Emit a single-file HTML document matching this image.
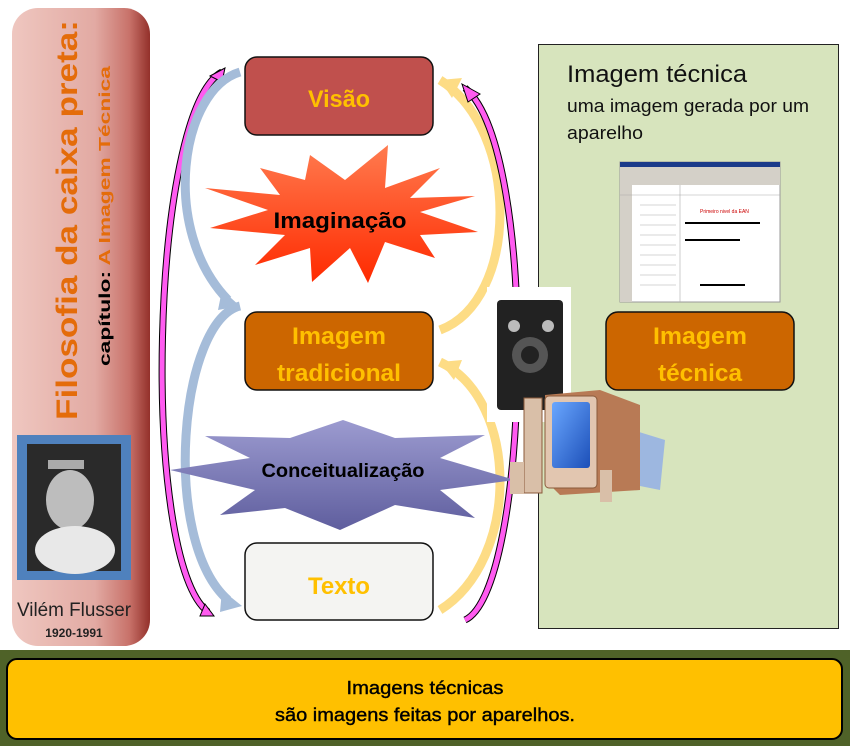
<!DOCTYPE html>
<html><head><meta charset="utf-8"><style>
html,body{margin:0;padding:0;background:#fff;}
svg{display:block;font-family:"Liberation Sans",sans-serif;}
</style></head><body>
<svg width="850" height="750" viewBox="0 0 850 750" xmlns="http://www.w3.org/2000/svg">
<defs>
<linearGradient id="pill" x1="0" x2="1" y1="0" y2="0">
<stop offset="0" stop-color="#efc7c0"/><stop offset="0.6" stop-color="#e2aaa3"/><stop offset="0.85" stop-color="#c8726a"/><stop offset="1" stop-color="#93302a"/>
</linearGradient>
<linearGradient id="red" x1="0" x2="0" y1="0" y2="1"><stop offset="0" stop-color="#ff7b4f"/><stop offset="1" stop-color="#ff2a00"/></linearGradient>
<linearGradient id="pur" x1="0" x2="0" y1="0" y2="1"><stop offset="0" stop-color="#9c9bd0"/><stop offset="1" stop-color="#5f5e9e"/></linearGradient>
<linearGradient id="scr" x1="0" x2="1" y1="0" y2="1"><stop offset="0" stop-color="#6aa7ff"/><stop offset="1" stop-color="#1c4fb8"/></linearGradient>
</defs>
<rect width="850" height="750" fill="#fff"/>
<!-- left pill -->
<rect x="12" y="8" width="138" height="638" rx="26" fill="url(#pill)"/>
<text transform="translate(77,420) rotate(-90)" font-size="30" font-weight="bold" fill="#e46c0a" textLength="400" lengthAdjust="spacingAndGlyphs">Filosofia da caixa preta:</text>
<text transform="translate(110,366) rotate(-90)" font-size="16" font-weight="bold" fill="#000" textLength="300" lengthAdjust="spacingAndGlyphs">capítulo: <tspan fill="#e46c0a">A Imagem Técnica</tspan></text>
<rect x="17" y="435" width="114" height="145" fill="#4f81bd"/>
<rect x="27" y="444" width="94" height="127" fill="#2a2a2a"/>
<ellipse cx="70" cy="500" rx="24" ry="30" fill="#bdbdbd"/>
<ellipse cx="75" cy="550" rx="40" ry="24" fill="#e8e8e8"/>
<rect x="48" y="460" width="36" height="9" fill="#aaa"/>
<text x="74" y="616" font-size="19" text-anchor="middle" fill="#222" textLength="114" lengthAdjust="spacingAndGlyphs">Vilém Flusser</text>
<text x="74" y="637" font-size="12" font-weight="bold" text-anchor="middle" fill="#222">1920-1991</text>
<!-- right panel -->
<rect x="538.5" y="44.5" width="300" height="584" fill="#d7e4bd" stroke="#222"/>
<text x="567" y="82" font-size="24" fill="#111" textLength="180" lengthAdjust="spacingAndGlyphs">Imagem técnica</text>
<text x="567" y="112" font-size="18" fill="#111" textLength="242" lengthAdjust="spacingAndGlyphs">uma imagem gerada por um</text>
<text x="567" y="139" font-size="18" fill="#111" textLength="76" lengthAdjust="spacingAndGlyphs">aparelho</text>
<rect x="620" y="162" width="160" height="140" fill="#fff" stroke="#999"/>
<rect x="620" y="162" width="160" height="5" fill="#1a3a8a"/>
<rect x="620" y="167" width="160" height="18" fill="#d4d0c8"/>
<rect x="620" y="185" width="12" height="117" fill="#d4d0c8"/>
<g stroke="#aaa" stroke-width="0.6">
<line x1="620" y1="195" x2="780" y2="195"/><line x1="680" y1="185" x2="680" y2="302"/>
<line x1="640" y1="205" x2="676" y2="205"/><line x1="640" y1="215" x2="676" y2="215"/><line x1="640" y1="225" x2="676" y2="225"/><line x1="640" y1="235" x2="676" y2="235"/><line x1="640" y1="245" x2="676" y2="245"/><line x1="640" y1="255" x2="676" y2="255"/><line x1="640" y1="265" x2="676" y2="265"/><line x1="640" y1="275" x2="676" y2="275"/><line x1="640" y1="285" x2="676" y2="285"/>
<line x1="685" y1="223" x2="760" y2="223" stroke="#000" stroke-width="2"/><line x1="685" y1="240" x2="740" y2="240" stroke="#000" stroke-width="2"/><line x1="700" y1="285" x2="745" y2="285" stroke="#000" stroke-width="2"/>
</g>
<text x="700" y="213" font-size="5" fill="#c00">Primeiro nivel da EAN</text>
<!-- bottom band -->
<rect x="0" y="650" width="850" height="96" fill="#4f6228"/>
<rect x="7" y="659" width="835" height="80" rx="10" fill="#ffc000" stroke="#000" stroke-width="2"/>
<text x="425" y="694" font-size="18" text-anchor="middle" fill="#000" textLength="157" lengthAdjust="spacingAndGlyphs" stroke="#000" stroke-width="0.4">Imagens técnicas</text>
<text x="425" y="721" font-size="18" text-anchor="middle" fill="#000" textLength="300" lengthAdjust="spacingAndGlyphs" stroke="#000" stroke-width="0.4">são imagens feitas por aparelhos.</text>
<!-- arrows left -->
<path d="M222 72 C150 110 140 560 208 612" fill="none" stroke="#000" stroke-width="7"/>
<path d="M222 72 C150 110 140 560 208 612" fill="none" stroke="#ff5bf0" stroke-width="5"/>
<path d="M210 76 L225 68 L222 82 Z M205 604 L214 616 L200 616 Z" fill="#ff5bf0" stroke="#000"/>
<path d="M240 72 C180 90 160 230 228 300" fill="none" stroke="#a5bcd9" stroke-width="9"/>
<path d="M240 306 L222 290 L218 310 Z" fill="#a5bcd9"/>
<path d="M240 306 C180 320 160 540 228 600" fill="none" stroke="#a5bcd9" stroke-width="9"/>
<path d="M242 606 L222 590 L220 612 Z" fill="#a5bcd9"/>
<!-- arrows right -->
<path d="M440 80 C520 130 520 300 440 330" fill="none" stroke="#fddc85" stroke-width="9"/>
<path d="M440 80 L462 78 L452 98 Z" fill="#fddc85"/>
<path d="M440 610 C520 560 520 400 440 362" fill="none" stroke="#fddc85" stroke-width="9"/>
<path d="M440 362 L462 360 L454 380 Z" fill="#fddc85"/>
<path d="M465 620 C530 590 540 150 465 88" fill="none" stroke="#000" stroke-width="7"/>
<path d="M465 620 C530 590 540 150 465 88" fill="none" stroke="#ff5bf0" stroke-width="5"/>
<path d="M462 84 L480 94 L468 102 Z" fill="#ff5bf0" stroke="#000"/>
<!-- boxes -->
<rect x="245" y="57" width="188" height="78" rx="12" fill="#c0504d" stroke="#111" stroke-width="1.5"/>
<text x="339" y="107" font-size="24" font-weight="bold" text-anchor="middle" fill="#ffc000" textLength="62" lengthAdjust="spacingAndGlyphs">Visão</text>
<rect x="245" y="312" width="188" height="78" rx="12" fill="#cc6600" stroke="#111" stroke-width="1.5"/>
<text x="339" y="344" font-size="24" font-weight="bold" text-anchor="middle" fill="#ffc000" textLength="94" lengthAdjust="spacingAndGlyphs">Imagem</text>
<text x="339" y="381" font-size="24" font-weight="bold" text-anchor="middle" fill="#ffc000" textLength="124" lengthAdjust="spacingAndGlyphs">tradicional</text>
<rect x="245" y="543" width="188" height="77" rx="12" fill="#f4f4f2" stroke="#111" stroke-width="1.5"/>
<text x="339" y="594" font-size="24" font-weight="bold" text-anchor="middle" fill="#ffc000" textLength="62" lengthAdjust="spacingAndGlyphs">Texto</text>
<rect x="606" y="312" width="188" height="78" rx="12" fill="#cc6600" stroke="#111" stroke-width="1.5"/>
<text x="700" y="344" font-size="24" font-weight="bold" text-anchor="middle" fill="#ffc000" textLength="94" lengthAdjust="spacingAndGlyphs">Imagem</text>
<text x="700" y="381" font-size="24" font-weight="bold" text-anchor="middle" fill="#ffc000" textLength="84" lengthAdjust="spacingAndGlyphs">técnica</text>
<!-- starbursts -->
<polygon points="310,155 345,180 388,145 385,188 440,168 410,198 475,196 420,212 478,232 420,235 435,258 385,242 368,283 350,248 312,282 310,248 255,265 285,235 210,228 268,210 205,188 280,195 260,168 305,180" fill="url(#red)"/>
<text x="340" y="228" font-size="22" font-weight="bold" text-anchor="middle" fill="#000" textLength="133" lengthAdjust="spacingAndGlyphs">Imaginação</text>
<polygon points="343,420 395,438 485,435 440,458 515,480 440,490 475,518 395,505 340,530 285,508 220,515 255,490 170,470 250,458 205,436 290,438" fill="url(#pur)"/>
<text x="343" y="477" font-size="19" font-weight="bold" text-anchor="middle" fill="#000" textLength="163" lengthAdjust="spacingAndGlyphs">Conceitualização</text>
<!-- camera -->
<rect x="487" y="287" width="84" height="135" fill="#fff"/>
<rect x="497" y="300" width="66" height="110" rx="4" fill="#222"/>
<circle cx="530" cy="355" r="18" fill="#555"/><circle cx="530" cy="355" r="9" fill="#222"/>
<circle cx="514" cy="326" r="6" fill="#bbb"/><circle cx="548" cy="326" r="6" fill="#bbb"/>
<!-- computer -->
<path d="M600 420 L665 440 L660 490 L610 480 Z" fill="#9db7e0"/>
<rect x="524" y="398" width="18" height="95" fill="#d9bfa8" stroke="#8a5a3a"/>
<path d="M545 395 L600 390 L640 405 L640 490 L560 495 L545 480 Z" fill="#b87a55"/>
<rect x="545" y="396" width="52" height="92" rx="4" fill="#e2c6b0" stroke="#8a5a3a"/>
<rect x="552" y="402" width="38" height="66" rx="3" fill="url(#scr)"/>
<rect x="510" y="462" width="14" height="32" fill="#d9bfa8"/>
<rect x="600" y="470" width="12" height="32" fill="#d9bfa8"/>
</svg>
</body></html>
